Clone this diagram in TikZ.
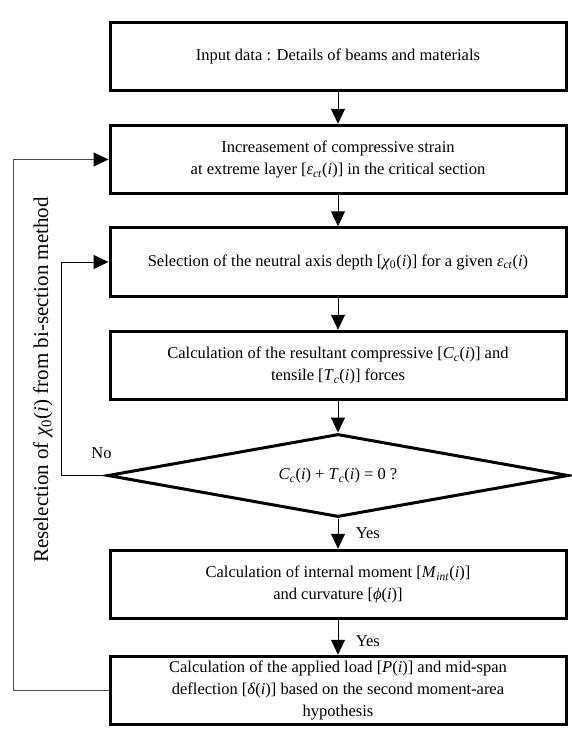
\documentclass[tikz,border=0pt]{standalone}
\usepackage{fontspec}
\setmainfont{Liberation Serif}
\usetikzlibrary{arrows.meta,shapes.geometric,calc}
% italic variable and italic subscript
\newcommand{\vi}[1]{\textit{#1}}
\newcommand{\sbs}[1]{\textsubscript{\textit{#1}}}

\begin{document}
\begin{tikzpicture}[x=1pt,y=1pt,
    font=\fontsize{16.5}{22}\selectfont,
    procbox/.style={draw,line width=3pt,minimum width=456pt,minimum height=68.5pt,
      inner sep=0pt,align=center},
    decbox/.style={draw,diamond,line width=3pt,minimum width=461pt,minimum height=83pt,
      aspect=5.5,inner sep=0pt},
    flow/.style={-{Triangle[length=15pt,width=14pt]},line width=1pt},
    backflow/.style={-{Triangle[length=15pt,width=14pt,color=black]},line width=1pt,black!70}]
  \useasboundingbox (0,0) rectangle (572,-748);

  \node[procbox] (input) at (338,-56.5) {Input data : Details of beams and materials};
  \node[procbox] (strain) at (338,-159.5)
    {Increasement of compressive strain\\at extreme layer [\vi{ε}\sbs{ct}(\vi{i})] in the critical section};
  \node[procbox] (depth) at (338,-262)
    {Selection of the neutral axis depth [\vi{χ}\textsubscript{0}(\vi{i})] for a given \vi{ε}\sbs{ct}(\vi{i})};
  \node[procbox] (forces) at (338,-365.5)
    {Calculation of the resultant compressive [\vi{C}\sbs{c}(\vi{i})] and\\tensile [\vi{T}\sbs{c}(\vi{i})] forces};
  \node[decbox] (check) at (338,-475.5)
    {\raisebox{-2pt}{\vi{C}\sbs{c}(\vi{i}) + \vi{T}\sbs{c}(\vi{i}) = 0 ?}};
  \node[procbox] (moment) at (338,-584.5)
    {Calculation of internal moment [\vi{M}\sbs{int}(\vi{i})]\\and curvature [\vi{ϕ}(\vi{i})]};
  \node[procbox] (load) at (338,-690.5)
    {Calculation of the applied load [\vi{P}(\vi{i})] and mid-span\\deflection [\vi{δ}(\vi{i})] based on the second moment-area\\hypothesis};

  % main flow
  \draw[flow] (input) -- (strain);
  \draw[flow] (strain) -- (depth);
  \draw[flow] (depth) -- (forces);
  \draw[flow] (forces) -- (check);
  \draw[flow] (check) -- node[pos=0.5,right=14pt] {Yes} (moment);
  \draw[flow] (moment) -- node[pos=0.6,right=14pt] {Yes} (load);

  % loops back
  \draw[flow] (check.west) -- node[pos=0.1,above=13pt] {No} ++(-44.5,0) |- (depth.west);
  \draw[backflow] (load.west) -- ++(-95,0) |- (strain.west);
  \node[rotate=90,font=\fontsize{21}{24}\selectfont] (reselect) at (43,-380)
    {Reselection of \vi{χ}\textsubscript{0}(\vi{i}) from bi-section method};
\end{tikzpicture}
\end{document}
